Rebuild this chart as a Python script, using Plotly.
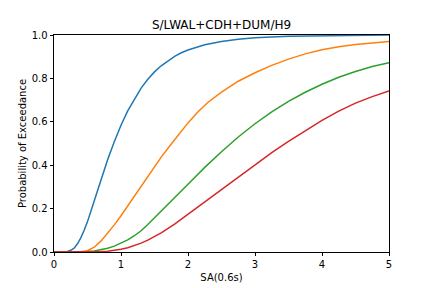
import plotly.graph_objects as go

title_text = "S/LWAL+CDH+DUM/H9"
x_label = "SA(0.6s)"
y_label = "Probability of Exceedance"

blue_x = [0.0, 0.1, 0.15, 0.2, 0.25, 0.3, 0.35, 0.4, 0.45, 0.5, 0.6, 0.7, 0.8, 0.9, 1.0, 1.1, 1.2, 1.3, 1.4, 1.5, 1.6, 1.7, 1.8, 1.9, 2.0, 2.25, 2.5, 2.75, 3.0, 3.5, 4.0, 4.5, 5.0]
blue_y = [0.0, 0.0, 0.0, 0.002, 0.008, 0.018, 0.038, 0.065, 0.1, 0.14, 0.235, 0.333, 0.425, 0.508, 0.584, 0.65, 0.706, 0.755, 0.796, 0.83, 0.858, 0.882, 0.902, 0.918, 0.931, 0.955, 0.97, 0.98, 0.987, 0.994, 0.997, 0.999, 1.0]

orange_x = [0.0, 0.3, 0.4, 0.5, 0.6, 0.7, 0.8, 0.9, 1.0, 1.1, 1.2, 1.3, 1.4, 1.5, 1.6, 1.75, 1.9, 2.0, 2.15, 2.3, 2.5, 2.75, 3.0, 3.25, 3.5, 3.75, 4.0, 4.25, 4.5, 4.75, 5.0]
orange_y = [0.0, 0.0, 0.001, 0.006, 0.022, 0.05, 0.085, 0.125, 0.167, 0.212, 0.258, 0.305, 0.35, 0.395, 0.437, 0.498, 0.557, 0.595, 0.646, 0.69, 0.737, 0.787, 0.826, 0.86, 0.889, 0.913, 0.932, 0.946, 0.956, 0.964, 0.97]

green_x = [0.0, 0.4, 0.5, 0.6, 0.7, 0.8, 0.9, 1.0, 1.1, 1.2, 1.3, 1.4, 1.5, 1.6, 1.75, 2.0, 2.25, 2.5, 2.75, 3.0, 3.25, 3.5, 3.75, 4.0, 4.25, 4.5, 4.75, 5.0]
green_y = [0.0, 0.0, 0.002, 0.005, 0.01, 0.017, 0.027, 0.04, 0.056, 0.075, 0.098, 0.127, 0.157, 0.188, 0.235, 0.312, 0.39, 0.462, 0.53, 0.591, 0.646, 0.694, 0.736, 0.773, 0.805, 0.832, 0.855, 0.872]

red_x = [0.0, 0.5, 0.6, 0.7, 0.8, 0.9, 1.0, 1.1, 1.2, 1.3, 1.4, 1.5, 1.6, 1.8, 2.0, 2.25, 2.5, 2.75, 3.0, 3.25, 3.5, 3.75, 4.0, 4.25, 4.5, 4.75, 5.0]
red_y = [0.0, 0.0, 0.001, 0.002, 0.004, 0.008, 0.013, 0.02, 0.03, 0.041, 0.055, 0.07, 0.088, 0.128, 0.173, 0.232, 0.288, 0.345, 0.402, 0.458, 0.51, 0.56, 0.607, 0.649, 0.686, 0.716, 0.742]

series = [
    (blue_x, blue_y, "#1f77b4"),
    (orange_x, orange_y, "#ff7f0e"),
    (green_x, green_y, "#2ca02c"),
    (red_x, red_y, "#d62728"),
]

x_ticks = [0, 1, 2, 3, 4, 5]
y_ticks = [0.0, 0.2, 0.4, 0.6, 0.8, 1.0]
y_tick_labels = ["0.0", "0.2", "0.4", "0.6", "0.8", "1.0"]

fig = go.Figure()
for xs, ys, c in series:
    fig.add_trace(go.Scatter(x=xs, y=ys, mode="lines",
                             line=dict(color=c, width=1.5),
                             showlegend=False))

font = "DejaVu Sans"
fig.update_layout(
    width=432, height=288,
    margin=dict(l=54, r=43, t=35, b=36),
    paper_bgcolor="white", plot_bgcolor="white",
    font=dict(family=font, size=10, color="black"),
    title=dict(text=title_text, x=0.5, xref="paper", y=1 - 25 / 288,
               yref="container", xanchor="center", yanchor="middle",
               font=dict(family=font, size=12, color="black")),
    xaxis=dict(range=[0, 5], tickvals=x_ticks, ticks="outside", ticklen=3.5,
               tickwidth=0.8, tickcolor="black", showline=True, mirror=True,
               linecolor="black", linewidth=0.8, showgrid=False, zeroline=False,
               automargin=False,
               title=dict(text=x_label, standoff=4, font=dict(size=10)),
               tickfont=dict(size=10)),
    yaxis=dict(range=[0, 1], tickvals=y_ticks, ticktext=y_tick_labels,
               ticks="outside", ticklen=3.5, tickwidth=0.8, tickcolor="black",
               showline=True, mirror=True, linecolor="black", linewidth=0.8,
               showgrid=False, zeroline=False, automargin=False,
               title=dict(text=y_label, standoff=3, font=dict(size=10)),
               tickfont=dict(size=10)),
)

fig.write_html("out.html")
